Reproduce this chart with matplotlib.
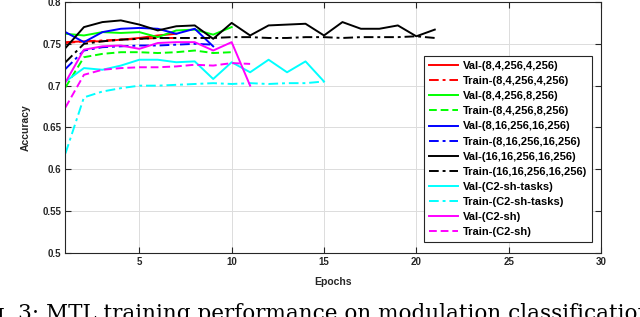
import matplotlib
matplotlib.use("Agg")
import matplotlib.pyplot as plt

plt.rcParams['font.family'] = ['Liberation Sans', 'DejaVu Sans']

val_8_4_4 = [0.752, 0.753, 0.753, 0.755, 0.757, 0.760, 0.762]
train_8_4_4 = [0.751, 0.753, 0.754, 0.755, 0.756, 0.757, 0.757]
val_8_4_8 = [0.762, 0.760, 0.764, 0.763, 0.764, 0.758, 0.766, 0.767, 0.761, 0.770]
train_8_4_8 = [0.698, 0.734, 0.738, 0.740, 0.740, 0.739, 0.740, 0.742, 0.739, 0.740]
val_8_16 = [0.764, 0.752, 0.764, 0.768, 0.769, 0.768, 0.762, 0.768, 0.747]
train_8_16 = [0.720, 0.742, 0.746, 0.747, 0.748, 0.748, 0.749, 0.750, 0.749]
val_16_16 = [0.745, 0.770, 0.776, 0.778, 0.773, 0.766, 0.771, 0.772, 0.756, 0.775,
             0.760, 0.772, 0.773, 0.774, 0.760, 0.776, 0.768, 0.768, 0.772, 0.759, 0.767]
train_16_16 = [0.728, 0.750, 0.753, 0.755, 0.756, 0.757, 0.757, 0.757, 0.757, 0.758,
               0.758, 0.757, 0.757, 0.758, 0.758, 0.757, 0.758, 0.758, 0.758, 0.759, 0.757]
val_c2_tasks = [0.705, 0.721, 0.719, 0.724, 0.731, 0.731, 0.728, 0.729, 0.708, 0.728,
                0.716, 0.731, 0.716, 0.729, 0.705]
train_c2_tasks = [0.619, 0.686, 0.693, 0.697, 0.700, 0.700, 0.701, 0.702, 0.703, 0.702,
                  0.703, 0.702, 0.703, 0.703, 0.705]
val_c2 = [0.704, 0.743, 0.747, 0.748, 0.744, 0.751, 0.752, 0.752, 0.742, 0.752, 0.700]
train_c2 = [0.674, 0.713, 0.719, 0.721, 0.722, 0.722, 0.723, 0.725, 0.724, 0.727, 0.726]

series = [
    ("Val-(8,4,256,4,256)", val_8_4_4, (1, 0, 0), '-'),
    ("Train-(8,4,256,4,256)", train_8_4_4, (1, 0, 0), '-.'),
    ("Val-(8,4,256,8,256)", val_8_4_8, (0, 1, 0), '-'),
    ("Train-(8,4,256,8,256)", train_8_4_8, (0, 1, 0), '--'),
    ("Val-(8,16,256,16,256)", val_8_16, (0, 0, 1), '-'),
    ("Train-(8,16,256,16,256)", train_8_16, (0, 0, 1), '-.'),
    ("Val-(16,16,256,16,256)", val_16_16, (0, 0, 0), '-'),
    ("Train-(16,16,256,16,256)", train_16_16, (0, 0, 0), '-.'),
    ("Val-(C2-sh-tasks)", val_c2_tasks, (0, 1, 1), '-'),
    ("Train-(C2-sh-tasks)", train_c2_tasks, (0, 1, 1), '-.'),
    ("Val-(C2-sh)", val_c2, (1, 0, 1), '-'),
    ("Train-(C2-sh)", train_c2, (1, 0, 1), '--'),
]

xticks = [5, 10, 15, 20, 25, 30]
yticks = [0.5, 0.55, 0.6, 0.65, 0.7, 0.75, 0.8]

fig = plt.figure(figsize=(6.4, 3.17), dpi=100)
ax = fig.add_axes([0.1023, 0.2019, 0.8367, 0.7918])

dstyles = {'-.': (0, (5, 2, 1.5, 2)), '--': (0, (4, 2)), '-': '-'}
for label, vals, color, ls in series:
    ax.plot(range(1, len(vals) + 1), vals, color=color, linestyle=dstyles[ls],
            linewidth=1.4, label=label)

ax.set_xlim(1, 30)
ax.set_ylim(0.5, 0.8)
ax.set_xticks(xticks)
ax.set_yticks(yticks)
ax.set_yticklabels(['0.5', '0.55', '0.6', '0.65', '0.7', '0.75', '0.8'])
ax.tick_params(direction='in', top=True, right=True, labelsize=7, length=4,
               width=0.8, colors='#262626', pad=3)
for t in ax.get_xticklabels() + ax.get_yticklabels():
    t.set_fontweight('bold')
ax.grid(True, color='#dcdcdc', linewidth=0.7)
for s in ax.spines.values():
    s.set_color('#262626')
    s.set_linewidth(0.8)

ax.set_xlabel('Epochs', fontsize=7.5, fontweight='bold', color='#262626', labelpad=7)
ax.set_ylabel('Accuracy', fontsize=7.5, fontweight='bold', color='#262626', labelpad=8)

leg = ax.legend(loc='upper right', bbox_to_anchor=(0.983, 0.785), borderaxespad=0,
                prop={'weight': 'bold', 'size': 8}, handlelength=2.6,
                labelspacing=0.46, borderpad=0.45, handletextpad=0.4,
                fancybox=False, framealpha=1, edgecolor='#262626')
leg.get_frame().set_linewidth(0.8)

fig.text(-0.048, -0.008, 'Fig. 3: MTL training performance on modulation classification',
         fontsize=15.5, family=['DejaVu Serif'], va='baseline', ha='left')

fig.savefig('out.png', dpi=100)
